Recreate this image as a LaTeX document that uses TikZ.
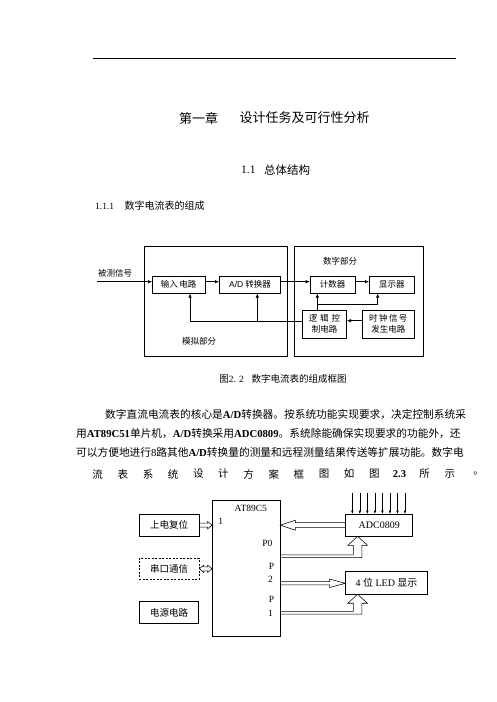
\documentclass[tikz,border=0pt]{standalone}
\usepackage{fontspec}
\setmainfont{Liberation Serif}
\setsansfont{Liberation Sans}
\newfontfamily\cjk{Noto Sans CJK SC}
\usetikzlibrary{arrows.meta,calc}
\XeTeXlinebreaklocale "zh"
\XeTeXlinebreakskip=0pt plus 3pt
\newcommand\B[1]{{\rmfamily\bfseries #1}}
% hollow single-headed horizontal arrow: start, end, shaft half, head half, head length, direction (1 right, -1 left)
\newcommand\hollowH[6]{%
 \path[draw,line width=0.55pt] let \p1=(#1), \p2=(#2) in
  ({\x1},{\y1+#3}) -- ({\x2-(#6)*#5},{\y1+#3}) -- ({\x2-(#6)*#5},{\y1+#4}) -- ({\x2},{\y1})
  -- ({\x2-(#6)*#5},{\y1-#4}) -- ({\x2-(#6)*#5},{\y1-#3}) -- ({\x1},{\y1-#3}) -- cycle;}
% hollow double-headed horizontal arrow (start left of end)
\newcommand\hollowHH[5]{%
 \path[draw,line width=0.55pt] let \p1=(#1), \p2=(#2) in
  ({\x1},{\y1}) -- ({\x1+#5},{\y1+#4}) -- ({\x1+#5},{\y1+#3}) -- ({\x2-#5},{\y1+#3}) -- ({\x2-#5},{\y1+#4})
  -- ({\x2},{\y1}) -- ({\x2-#5},{\y1-#4}) -- ({\x2-#5},{\y1-#3}) -- ({\x1+#5},{\y1-#3}) -- ({\x1+#5},{\y1-#4}) -- cycle;}
% hollow L-shaped bus: start, tip, line half, shaft half, head half, head length
\newcommand\hollowL[6]{%
 \path[draw,line width=0.55pt] let \p1=(#1), \p2=(#2) in
  ({\x1},{\y1+#3}) -- ({\x2-#4},{\y1+#3}) -- ({\x2-#4},{\y2-#6}) -- ({\x2-#5},{\y2-#6}) -- ({\x2},{\y2})
  -- ({\x2+#5},{\y2-#6}) -- ({\x2+#4},{\y2-#6}) -- ({\x2+#4},{\y1-#3}) -- ({\x1},{\y1-#3}) -- cycle;}
\tikzset{
 grp/.style={draw, line width=0.8pt, inner sep=0pt},
 blka/.style={draw, line width=0.6pt, inner sep=0pt, align=center, font=\cjk\fontsize{8.5}{11}\selectfont},
 lbla/.style={inner sep=0pt, font=\cjk\fontsize{8.5}{10}\selectfont},
 blkb/.style={draw, line width=0.6pt, inner sep=0pt, font=\cjk\fontsize{9.5}{11}\selectfont},
 txtb/.style={inner sep=0pt, font=\rmfamily\fontsize{9.5}{11}\selectfont},
 arr/.style={-{Latex[length=4pt,width=3.5pt]}, line width=0.6pt},
 arrs/.style={-{Latex[length=3.5pt,width=2.6pt]}, line width=0.6pt},
 para/.style={inner sep=0pt, anchor=west, font=\cjk\fontsize{10.7}{12}\selectfont},
}
\begin{document}
\begin{tikzpicture}[x=1pt,y=-1pt]
\useasboundingbox[fill=white] (0,0) rectangle (496,702);

% ---------- header ----------
\draw[line width=0.9pt] (93.3,58.3) -- (455.7,58.3);
\node[inner sep=0pt, anchor=west, font=\cjk\fontsize{13}{15}\selectfont] (chap) at (179,118) {第一章};
\node[inner sep=0pt, anchor=west, font=\cjk\fontsize{13}{15}\selectfont] (chapt) at (239.3,118) {设计任务及可行性分析};
\node[inner sep=0pt, anchor=west, font=\rmfamily\fontsize{11.5}{13}\selectfont] (secn) at (241,170) {1.1};
\node[inner sep=0pt, anchor=west, font=\cjk\fontsize{11.5}{13}\selectfont] (sect) at (264,170) {总体结构};
\node[inner sep=0pt, anchor=west, font=\rmfamily\fontsize{9.5}{11}\selectfont] (ssecn) at (95,206) {1.1.1};
\node[inner sep=0pt, anchor=west, font=\cjk\fontsize{10}{12}\selectfont] (ssect) at (124.3,206) {数字电流表的组成};

% ---------- diagram 1 ----------
\node[grp, minimum width=143pt, minimum height=110pt] (ana) at (215.8,301) {};
\node[grp, minimum width=129pt, minimum height=110pt] (dig) at (358.8,301) {};
\node[blka, minimum width=52.7pt, minimum height=17.3pt] (inp) at (178.7,284.7) {输入\,电路};
\node[blka, minimum width=61.4pt, minimum height=17.3pt] (adcv) at (250,284.7) {{\sffamily A/D} 转换器};
\node[blka, minimum width=45pt, minimum height=17.3pt] (cnt) at (332.5,284.7) {计数器};
\node[blka, minimum width=45pt, minimum height=17.3pt] (dsp) at (391.8,284.7) {显示器};
\node[blka, minimum width=44.4pt, minimum height=28.3pt] (lgc) at (324.5,324.2) {逻\,\,辑\,\,控\\制电路};
\node[blka, minimum width=52pt, minimum height=28.3pt] (clk) at (388.3,324.2) {时\,钟\,信\,号\\发生电路};
\node[lbla] (sigl) at (115,273) {被测信号};
\node[lbla] (digl) at (340,261.7) {数字部分};
\node[lbla] (anal) at (199,341.7) {模拟部分};

\coordinate (src) at (97,281.7);
\draw[arr] (src) -- (src -| inp.west);
\draw[arr] (inp.east |- src) -- (adcv.west |- src);
\draw[arr] (adcv.east |- src) -- (cnt.west |- src);
\draw[arr] (cnt.east |- src) -- (dsp.west |- src);
\coordinate (fa) at (317.3,304);
\coordinate (fb) at (377.7,304);
\draw[arr] (fa |- lgc.north) -- (fa |- cnt.south);
\draw[arr] (fa) -- (fb) -- (fb |- dsp.south);
\coordinate (fc) at (190,321.7);
\coordinate (fd) at (257.3,321.7);
\draw[arr] (lgc.west |- fc) -- (fc) -- (fc |- inp.south);
\draw[arr] (fd) -- (fd |- adcv.south);
\coordinate (ck) at (0,320.7);
\draw[arr] (clk.west |- ck) -- (lgc.east |- ck);

\node[inner sep=0pt, font=\rmfamily\fontsize{9.5}{11}\selectfont] (cap) at (283,379) {{\cjk 图}2. 2\hspace{7.7pt}{\cjk 数字电流表的组成框图}};

% ---------- paragraph ----------
\node[para] (par1) at (105,415) {\hbox to 356.7pt{数字直流电流表的核心是\B{A/D}转换器。按系统功能实现要求，决定控制系统采}};
\node[para] (par2) at (76,433.3) {\hbox to 385.7pt{用\B{AT89C51}单片机，\B{A/D}转换采用\B{ADC0809}。系统除能确保实现要求的功能外，还}};
\node[para] (par3) at (76,452.3) {\hbox to 385.7pt{可以方便地进行{\rmfamily 8}路其他\B{A/D}转换量的测量和远程测量结果传送等扩展功能。数字电}};
\foreach \t [count=\i from 0] in {流,表,系,统,设,计,方,案,框,图,如,图,{\B{2.3}},所,示}
  \node[inner sep=0pt, font=\cjk\fontsize{10.5}{12}\selectfont] (w\i) at ({97.7+\i*25.15},474) {\t};
\node[inner sep=0pt, font=\cjk\fontsize{10.5}{12}\selectfont] (wend) at (478.5,474) {。};

% ---------- diagram 2 ----------
\node[blkb, minimum width=67.7pt, minimum height=136pt] (mcu) at (246.2,568.7) {};
\node[txtb] (mcuA) at (250.8,508.3) {AT89C5};
\node[txtb] (mcuB) at (220.7,521.7) {1};
\node[txtb] (mcuP0) at (267.3,543.3) {P0};
\node[txtb] (mcuP2a) at (271.5,566) {P};
\node[txtb] (mcuP2b) at (270.5,579) {2};
\node[txtb] (mcuP1a) at (271.5,599.5) {P};
\node[txtb] (mcuP1b) at (270.5,613.3) {1};
\node[blkb, minimum width=59.7pt, minimum height=21.7pt] (rst) at (169.2,525.2) {上电复位};
\node[blkb, dash pattern=on 2pt off 1.5pt, minimum width=59.7pt, minimum height=21pt] (ser) at (169.2,568.8) {串口通信};
\node[blkb, minimum width=59.2pt, minimum height=21.6pt] (pwr) at (169,612.5) {电源电路};
\node[blkb, font=\rmfamily\fontsize{10}{12}\selectfont, minimum width=67pt, minimum height=21.7pt] (adc) at (379.2,525.2) {ADC0809};
\node[blkb, font=\rmfamily\fontsize{10}{12}\selectfont, minimum width=81.6pt, minimum height=22.3pt] (led) at (386.5,582.8) {4 {\cjk 位} LED {\cjk 显示}};

\foreach \i in {0,...,7} {
  \coordinate (ai\i) at ({352.3+\i*7.53},492.7);
  \draw[arrs] (ai\i) -- (ai\i |- adc.north);
}
\hollowH{rst.east}{mcu.west |- rst.east}{2pt}{3.7pt}{4.5pt}{1}
\hollowHH{ser.east}{mcu.west |- ser.east}{2pt}{3.7pt}{4.5pt}
\hollowH{adc.west}{mcu.east |- adc.west}{2.5pt}{5pt}{15pt}{-1}
\coordinate (p2y) at (0,583.3);
\hollowH{mcu.east |- p2y}{led.west |- p2y}{1.65pt}{4.2pt}{15.7pt}{1}
\coordinate (bx) at (357.6,0);
\coordinate (p0y) at (0,556.3);
\hollowL{mcu.east |- p0y}{bx |- adc.south}{1.4pt}{4.2pt}{9.8pt}{9pt}
\coordinate (p1y) at (0,612.8);
\hollowL{mcu.east |- p1y}{bx |- led.south}{1.4pt}{4.2pt}{9.8pt}{9pt}
\end{tikzpicture}
\end{document}
